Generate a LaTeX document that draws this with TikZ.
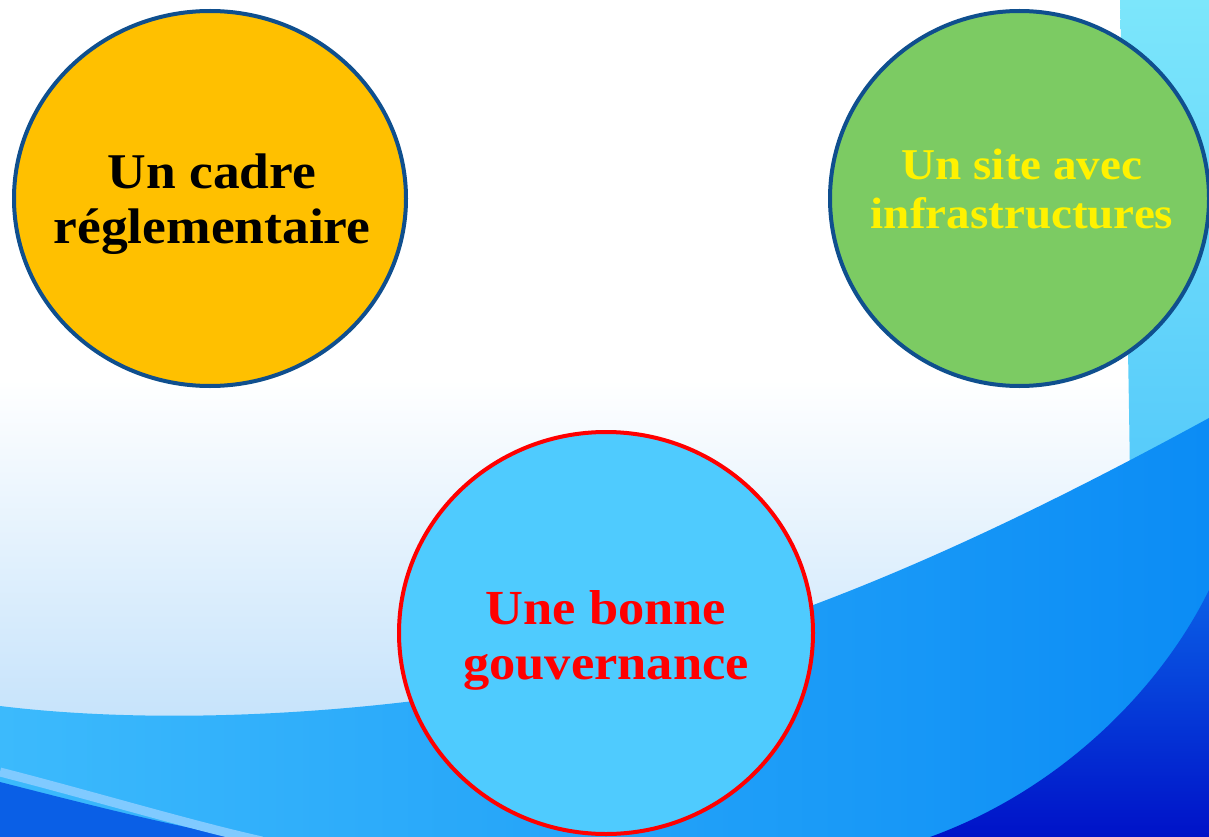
\documentclass[tikz,border=0pt]{standalone}
\usepackage{fontspec}
\setmainfont{Liberation Serif}[FakeStretch=1.07]
\usetikzlibrary{shapes.geometric}

\definecolor{gold}{HTML}{FFC000}
\definecolor{leaf}{HTML}{7CCB63}
\definecolor{sky}{HTML}{4FCBFE}
\definecolor{ringblue}{HTML}{0F4F8E}
\definecolor{paleblue}{HTML}{C6E3FB}
\definecolor{stripcyan}{HTML}{7CE6FB}
\definecolor{stripblue}{HTML}{55CAFA}
\definecolor{bandleft}{HTML}{3CBAFC}
\definecolor{bandright}{HTML}{0B8CF5}
\definecolor{deepblue}{HTML}{0A5FE6}
\definecolor{streak}{HTML}{80CAFF}
\definecolor{nightblue}{HTML}{0012C8}

\begin{document}
\begin{tikzpicture}[x=1pt,y=-1pt,
  disc/.style={ellipse,draw=ringblue,line width=4pt,inner sep=0pt},
  words/.style={align=center,font=\bfseries}]
  \useasboundingbox (0,0) rectangle (1209,837);
  % backdrop
  \fill[white] (0,0) rectangle (1209,837);
  \shade[top color=white,bottom color=paleblue] (0,380) rectangle (1209,720);
  \fill[paleblue] (0,719) rectangle (1209,837);
  \shade[top color=stripcyan,bottom color=stripblue]
    (1120,0) .. controls (1124,160) and (1128,320) .. (1130,480) -- (1209,480) -- (1209,0) -- cycle;
  \shade[left color=bandleft,right color=bandright]
    (0,706) .. controls (180,728) and (420,712) .. (620,665)
    .. controls (830,615) and (1040,510) .. (1209,418) -- (1209,837) -- (0,837) -- cycle;
  \fill[deepblue] (0,782) .. controls (90,805) and (180,828) .. (240,837) -- (0,837) -- cycle;
  \draw[streak,line width=9pt] (0,772) .. controls (90,795) and (190,825) .. (262,841);
  \shade[top color=deepblue,bottom color=nightblue]
    (1209,590) .. controls (1160,690) and (1060,790) .. (930,837) -- (1209,837) -- cycle;

  % the three discs
  \node[disc,fill=gold,minimum width=392,minimum height=375] (cadre) at (210,198.5) {};
  \node[disc,fill=leaf,minimum width=379,minimum height=375] (site) at (1019.5,198.5) {};
  \node[disc,fill=sky,draw=red,minimum width=414,minimum height=402] (gouv) at (606,633) {};

  \node[words,text=black,font=\bfseries\fontsize{50}{55}\selectfont] (cadreTxt) at (212,204)
    {Un cadre\\ réglementaire};
  \node[words,text=yellow,font=\bfseries\fontsize{44}{49}\selectfont] (siteTxt) at (1022,189)
    {Un site avec\\ infrastructures};
  \node[words,text=red,font=\bfseries\fontsize{49}{55}\selectfont] (gouvTxt) at (606,640)
    {Une bonne\\ gouvernance};
\end{tikzpicture}
\end{document}
